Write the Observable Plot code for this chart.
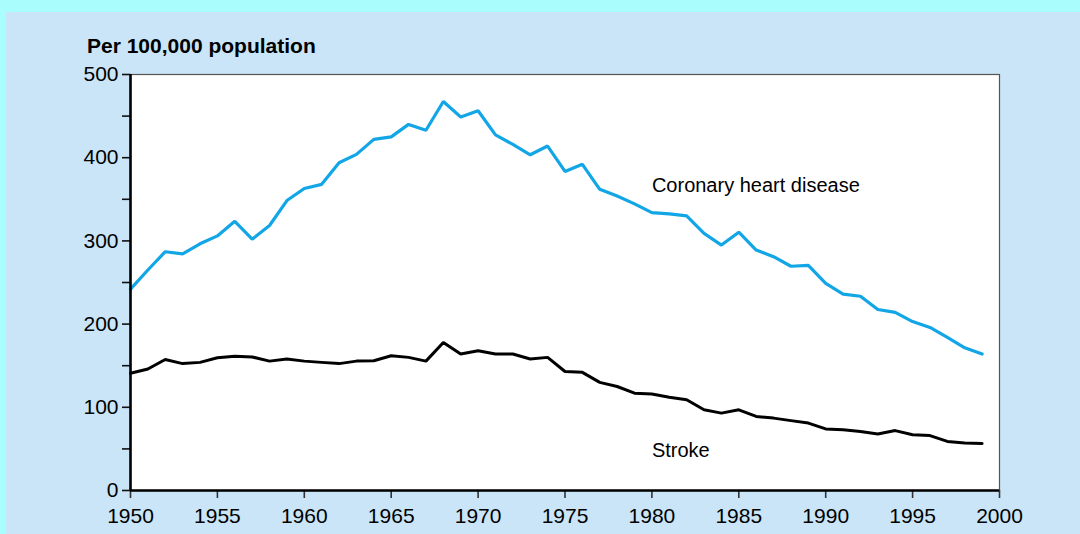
<!DOCTYPE html>
<html>
<head>
<meta charset="utf-8">
<script src="https://cdn.jsdelivr.net/npm/d3@7"></script>
<script src="https://cdn.jsdelivr.net/npm/@observablehq/plot@0.6"></script>
<style>
  html, body { margin: 0; padding: 0; width: 1080px; height: 534px; overflow: hidden; background: #aafdfd; font-family: "Liberation Sans", Arial, sans-serif; }
  #panel { position: absolute; left: 6px; top: 12px; right: 0; bottom: 0; background: #c9e5f7; }
  #title { position: absolute; left: 87px; top: 34px; font-size: 21px; font-weight: bold; color: #000; white-space: nowrap; line-height: normal; }
  #chart { position: absolute; left: 0; top: 0; }
</style>
</head>
<body>
<div id="panel"></div>
<div id="title">Per 100,000 population</div>
<div id="chart"></div>
<script>
const years = [1950,1951,1952,1953,1954,1955,1956,1957,1958,1959,
               1960,1961,1962,1963,1964,1965,1966,1967,1968,1969,
               1970,1971,1972,1973,1974,1975,1976,1977,1978,1979,
               1980,1981,1982,1983,1984,1985,1986,1987,1988,1989,
               1990,1991,1992,1993,1994,1995,1996,1997,1998,1999];
const coronary = [242,265,287,284.5,296.5,306,323.5,302,318.5,348.5,
                  363,368,394,404,422,425,440,433,467.5,449,
                  456.5,427.5,416,403.5,414,383.5,392,362,354,344.5,
                  334,332.5,330,309,295,310.5,289,281,269.5,270.5,
                  249,236,233.5,217.5,214,203,196,184,171.5,164];
const stroke = [141,146,157.5,152.5,154,159.5,161.5,160.5,155.5,158,
                155.5,154,152.5,155.5,156,162,160,155.5,178,164,
                168,164,164,158,160,143,142,130,125,117,
                116,112,109,97,93,97,89,87,84,81,
                74,73,71,68,72,67,66,59,57,56.5];
const xTicks = [1950,1955,1960,1965,1970,1975,1980,1985,1990,1995,2000];
const yTicks = [0,50,100,150,200,250,300,350,400,450,500];
const labels = [
  {name: "Coronary heart disease", year: 1980, value: 366.5},
  {name: "Stroke", year: 1980, value: 48}
];

const chdData = years.map((y, i) => ({year: y, value: coronary[i]}));
const strokeData = years.map((y, i) => ({year: y, value: stroke[i]}));

const chart = Plot.plot({
  width: 1080,
  height: 534,
  marginLeft: 130,
  marginRight: 81,
  marginTop: 74,
  marginBottom: 44,
  style: {background: "transparent", fontFamily: "'Liberation Sans', Arial, sans-serif", fontSize: "21px", color: "#000", overflow: "visible"},
  x: {domain: [1950, 2000]},
  y: {domain: [0, 500]},
  marks: [
    Plot.frame({fill: "white", stroke: "#555", strokeWidth: 1.2}),
    Plot.lineY(chdData, {x: "year", y: "value", stroke: "#12a6e6", strokeWidth: 3.2, strokeLinejoin: "miter"}),
    Plot.lineY(strokeData, {x: "year", y: "value", stroke: "#000", strokeWidth: 3, strokeLinejoin: "miter"}),
    Plot.text(labels, {x: "year", y: "value", text: "name", textAnchor: "start", fontSize: 20, fill: "#000", letterSpacing: "-0.1px"}),
    Plot.axisX({ticks: xTicks, tickFormat: d => String(d), tickSize: 8, tickPadding: 10, label: null, fontSize: 21, strokeWidth: 1.6, stroke: "#333"}),
    Plot.axisY({ticks: yTicks, tickFormat: d => d % 100 === 0 ? String(d) : "", tickSize: 8, tickPadding: 4, label: null, fontSize: 21, strokeWidth: 1.6, stroke: "#111"}),
    Plot.ruleX([1950], {stroke: "#000", strokeWidth: 2.6}),
    Plot.ruleY([0], {stroke: "#000", strokeWidth: 2.6})
  ]
});
document.getElementById("chart").appendChild(chart);
</script>
</body>
</html>
